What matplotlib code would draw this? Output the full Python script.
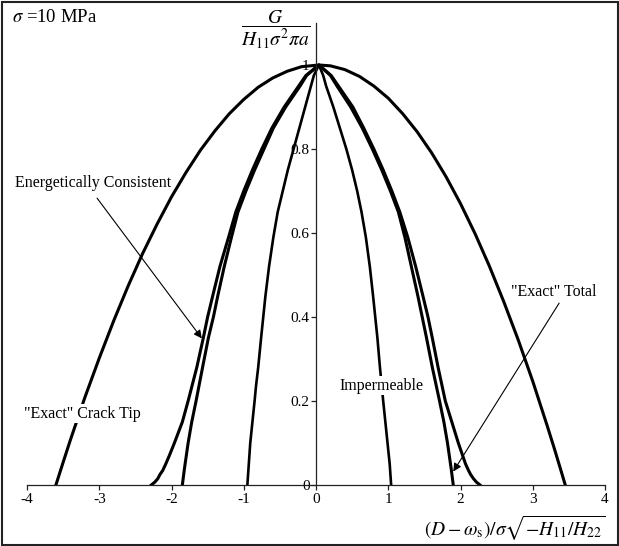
import matplotlib
matplotlib.use('Agg')
import matplotlib.pyplot as plt
from matplotlib.patches import Rectangle

plt.rcParams['font.family'] = ['Liberation Serif', 'DejaVu Serif']
plt.rcParams['mathtext.fontset'] = 'stix'
plt.rcParams['axes.unicode_minus'] = False

# ---- data ----
# "Exact" Crack Tip (widest curve)
crack_tip_x = [-3.60, -3.50, -3.40, -3.20, -3.00, -2.80, -2.60, -2.40, -2.20, -2.00, -1.80,
               -1.60, -1.40, -1.20, -1.00, -0.80, -0.60, -0.40, -0.20, 0.04,
               0.20, 0.40, 0.60, 0.80, 1.00, 1.20, 1.40, 1.60, 1.80, 2.00, 2.20, 2.40,
               2.60, 2.80, 3.00, 3.20, 3.30, 3.40, 3.45]
crack_tip_y = [0.0, 0.054, 0.107, 0.208, 0.302, 0.391, 0.474, 0.551, 0.621, 0.686, 0.744,
               0.797, 0.843, 0.884, 0.918, 0.947, 0.969, 0.985, 0.996, 1.0,
               0.998, 0.989, 0.973, 0.950, 0.921, 0.884, 0.841, 0.791, 0.734, 0.670, 0.599, 0.521,
               0.436, 0.345, 0.247, 0.141, 0.086, 0.029, 0.0]

# Energetically Consistent (curve with a foot at the bottom)
energ_x = [-2.28, -2.23, -2.19, -2.16, -2.12, -2.08, -2.03, -1.96, -1.85, -1.77, -1.65, -1.56,
           -1.50, -1.43, -1.33, -1.21, -1.11, -1.00, -0.88, -0.75, -0.61, -0.44, -0.24, -0.14,
           0.04,
           0.21, 0.31, 0.51, 0.66, 0.80, 0.93, 1.05, 1.16, 1.27, 1.38, 1.48, 1.55, 1.61, 1.69,
           1.79, 1.88, 1.97, 2.03, 2.07, 2.11, 2.14, 2.18, 2.22, 2.27]
energ_y = [0.0, 0.007, 0.015, 0.025, 0.035, 0.05, 0.07, 0.10, 0.15, 0.20, 0.28, 0.35,
           0.40, 0.45, 0.52, 0.59, 0.65, 0.70, 0.75, 0.80, 0.85, 0.90, 0.95, 0.975,
           1.0,
           0.975, 0.95, 0.90, 0.85, 0.80, 0.75, 0.70, 0.65, 0.59, 0.52, 0.45, 0.40, 0.35, 0.28,
           0.20, 0.15, 0.10, 0.07, 0.05, 0.035, 0.025, 0.015, 0.007, 0.0]

# "Exact" Total
total_x = [-1.85, -1.82, -1.77, -1.72, -1.66, -1.57, -1.49, -1.42, -1.36, -1.27, -1.17, -1.08,
           -0.97, -0.85, -0.72, -0.59, -0.42, -0.22, -0.13,
           0.04,
           0.20, 0.29, 0.48, 0.64, 0.78, 0.91, 1.03, 1.14, 1.23, 1.32, 1.41, 1.47, 1.53, 1.61,
           1.71, 1.77, 1.82, 1.87, 1.90]
total_y = [0.0, 0.04, 0.10, 0.15, 0.20, 0.28, 0.35, 0.40, 0.45, 0.52, 0.59, 0.65,
           0.70, 0.75, 0.80, 0.85, 0.90, 0.95, 0.975,
           1.0,
           0.975, 0.95, 0.90, 0.85, 0.80, 0.75, 0.70, 0.65, 0.59, 0.52, 0.45, 0.40, 0.35, 0.28,
           0.20, 0.15, 0.10, 0.04, 0.0]

# Impermeable
imperm_x = [-0.95, -0.93, -0.91, -0.88, -0.85, -0.83, -0.80, -0.76, -0.73, -0.70, -0.65, -0.59,
            -0.53, -0.46, -0.39, -0.31, -0.23, -0.15, -0.07, -0.03,
            0.04,
            0.10, 0.14, 0.24, 0.33, 0.42, 0.50, 0.57, 0.63, 0.69, 0.745, 0.79, 0.82, 0.85, 0.885,
            0.91, 0.93, 0.96, 0.99, 1.02, 1.04]
imperm_y = [0.0, 0.05, 0.10, 0.15, 0.20, 0.236, 0.28, 0.35, 0.40, 0.45, 0.52, 0.59,
            0.65, 0.70, 0.75, 0.80, 0.85, 0.90, 0.95, 0.975,
            1.0,
            0.975, 0.95, 0.90, 0.85, 0.80, 0.75, 0.70, 0.65, 0.59, 0.52, 0.45, 0.40, 0.35, 0.28,
            0.236, 0.20, 0.15, 0.10, 0.05, 0.0]

x_ticks = [-4, -3, -2, -1, 0, 1, 2, 3, 4]
x_tick_labels = ['-4', '-3', '-2', '-1', '0', '1', '2', '3', '4']
y_ticks = [0, 0.2, 0.4, 0.6, 0.8, 1.0]
y_tick_labels = ['0', '0.2', '0.4', '0.6', '0.8', '1']

W, H = 619, 546
fig = plt.figure(figsize=(W / 100, H / 100), dpi=100)
ax = fig.add_axes([27 / W, 61 / H, 578 / W, 462 / H])
ax.set_xlim(-4, 4)
ax.set_ylim(0, 1.1)
ax.patch.set_alpha(0)

lw = 2.2
ax.plot(crack_tip_x, crack_tip_y, color='black', lw=lw, solid_joinstyle='round')
ax.plot(energ_x, energ_y, color='black', lw=lw, solid_joinstyle='round')
ax.plot(total_x, total_y, color='black', lw=lw, solid_joinstyle='round')
ax.plot(imperm_x, imperm_y, color='black', lw=1.9, solid_joinstyle='round')

for s in ('top', 'right'):
    ax.spines[s].set_visible(False)
ax.spines['left'].set_position(('data', 0))
ax.spines['left'].set_linewidth(0.9)
ax.spines['bottom'].set_linewidth(0.9)
ax.spines['left'].set_color('#222222')
ax.spines['bottom'].set_color('#222222')

ax.set_xticks(x_ticks)
ax.set_xticklabels(x_tick_labels)
ax.set_yticks(y_ticks)
ax.set_yticklabels(y_tick_labels)
ax.tick_params(axis='both', direction='out', length=3.6, width=0.9, labelsize=11, color='#222222')
ax.tick_params(axis='x', pad=2)
ax.tick_params(axis='y', pad=1)

box = dict(boxstyle='square,pad=0.1', fc='white', ec='none')
ax.text(-3.08, 0.719, 'Energetically Consistent', fontsize=11.5, ha='center', va='center')
ax.annotate('', xy=(-1.58, 0.349), xytext=(-3.03, 0.683),
            arrowprops=dict(arrowstyle='-|>', color='black', lw=0.8, mutation_scale=12,
                            shrinkA=0, shrinkB=0))
ax.text(-3.23, 0.17, '"Exact" Crack Tip', fontsize=11.5, ha='center', va='center', bbox=box)
ax.text(0.91, 0.236, 'Impermeable', fontsize=11.5, ha='center', va='center', bbox=box)
ax.text(3.285, 0.46, '"Exact" Total', fontsize=11.5, ha='center', va='center', bbox=box)
ax.annotate('', xy=(1.90, 0.032), xytext=(3.365, 0.433),
            arrowprops=dict(arrowstyle='-|>', color='black', lw=0.8, mutation_scale=12,
                            shrinkA=0, shrinkB=0))

fig.text(12 / W, 1 - 18 / H, r'$\sigma$ =10 MPa', fontsize=13.5, ha='left', va='center')
fig.text(276 / W, 1 - 30 / H, r'$\dfrac{G}{H_{11}\sigma^{2}\pi a}$', fontsize=14,
         ha='center', va='center')
fig.text(606 / W, 1 - 528 / H,
         r'$\left(D-\omega_{\mathrm{s}}\right)/\sigma\sqrt{-H_{11}/H_{22}}$',
         fontsize=14, ha='right', va='center')

fig.add_artist(Rectangle((1.5 / W, 1.5 / H), 1 - 3 / W, 1 - 3 / H, transform=fig.transFigure,
                         fill=False, lw=1.5, ec='#222222'))

fig.savefig('out.png', dpi=100)
